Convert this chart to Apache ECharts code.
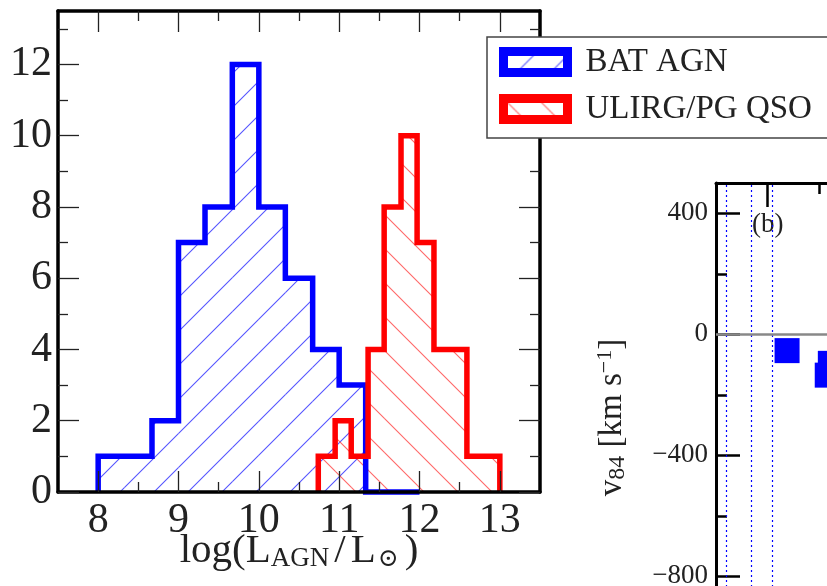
<!DOCTYPE html>
<html>
<head>
<meta charset="utf-8">
<script src="https://cdn.jsdelivr.net/npm/echarts@6/dist/echarts.min.js"></script>
<style>
  html, body { margin: 0; padding: 0; background: #fff; }
  #chart { width: 827px; height: 586px; }
</style>
</head>
<body>
<div id="chart"></div>
<script>
// 直方图数据 (a)
const batEdges = [8.0, 8.33, 8.67, 9.0, 9.33, 9.67, 10.0, 10.33, 10.67, 11.0, 11.33, 11.67, 12.0]
const batCounts = [1, 1, 2, 7, 8, 12, 8, 6, 4, 3, 0, 0]
const ulirgEdges = [10.74, 10.95, 11.15, 11.36, 11.56, 11.77, 11.97, 12.18, 12.38, 12.59, 12.79, 13.0]
const ulirgCounts = [1, 2, 1, 4, 8, 10, 7, 4, 4, 1, 1]

// 坐标轴刻度 (a)
const xMajor = [8, 9, 10, 11, 12, 13]
const xMinor = [8.5, 9.5, 10.5, 11.5, 12.5]
const yMajor = [0, 2, 4, 6, 8, 10, 12]
const yMinor = [1, 3, 5, 7, 9, 11, 13]

// 右侧子图 (b) 只露出一部分
const bXMajor = [0.5, 1.5, 2.5]
const bXMinor = [1.0, 2.0, 3.0]
const bYMajor = [-800, -400, 0, 400]
const bYMinor = [-1000, -600, -200, 200]
const bRefLines = [0.1, 0.34, 0.553]
const bPoints = [[0.69, -54], [1.11, -96], [1.08, -135]]

const SERIF = '"Liberation Serif", "DejaVu Serif", serif'

// 斜线填充
function hatch(color, dir) {
  const s = 34
  const cv = document.createElement('canvas')
  cv.width = s
  cv.height = s
  const ctx = cv.getContext('2d')
  ctx.strokeStyle = color
  ctx.lineWidth = 1.1
  ctx.beginPath()
  if (dir === '/') {
    ctx.moveTo(0, s); ctx.lineTo(s, 0)
    ctx.moveTo(-1, 1); ctx.lineTo(1, -1)
    ctx.moveTo(s - 1, s + 1); ctx.lineTo(s + 1, s - 1)
  } else {
    ctx.moveTo(0, 0); ctx.lineTo(s, s)
    ctx.moveTo(-1, s - 1); ctx.lineTo(1, s + 1)
    ctx.moveTo(s - 1, -1); ctx.lineTo(s + 1, 1)
  }
  ctx.stroke()
  return { image: cv, repeat: 'repeat' }
}

const blueHatch = hatch('rgba(30,30,255,0.75)', '/')
const redHatch = hatch('rgba(255,40,40,0.7)', '\\')

function histSeries(name, edges, counts, lineColor, pattern) {
  return {
    type: 'custom',
    name: name,
    xAxisIndex: 0,
    yAxisIndex: 0,
    z: 2,
    itemStyle: { color: pattern, borderColor: lineColor },
    data: counts.map((c, i) => [edges[i], edges[i + 1], c]),
    renderItem(params, api) {
      const p0 = api.coord([api.value(0), api.value(2)])
      const p1 = api.coord([api.value(1), 0])
      const children = [{
        type: 'rect',
        shape: { x: p0[0], y: p0[1], width: p1[0] - p0[0], height: p1[1] - p0[1] },
        style: { fill: pattern }
      }]
      // 最后一个 bin 时画整条阶梯轮廓
      if (params.dataIndex === counts.length - 1) {
        const pts = [api.coord([edges[0], 0])]
        counts.forEach((c, i) => {
          pts.push(api.coord([edges[i], c]))
          pts.push(api.coord([edges[i + 1], c]))
        })
        pts.push(api.coord([edges[edges.length - 1], 0]))
        children.push({
          type: 'polyline',
          shape: { points: pts },
          style: { stroke: lineColor, lineWidth: 5.5, fill: null, lineJoin: 'miter' },
          z2: 10
        })
      }
      return { type: 'group', children: children }
    }
  }
}

function tickAxis(opt) {
  // 通用的刻度轴，刻度朝内，不贴零点
  const base = {
    type: 'value',
    z: 3,
    splitLine: { show: false },
    axisLabel: { show: false },
  }
  const merged = Object.assign(base, opt)
  merged.axisLine = Object.assign({ show: false }, opt.axisLine || {}, { onZero: false })
  return merged
}

const minusFmt = v => (v < 0 ? '\u2212' + Math.abs(v) : String(v))

const chart = echarts.init(document.getElementById('chart'), null, { renderer: 'canvas' })

const option = {
  animation: false,
  backgroundColor: '#fff',
  grid: [
    { left: 58, top: 11, width: 482, height: 481, outerBoundsMode: 'none', containLabel: false },
    { left: 716, top: 183, width: 412, height: 469, outerBoundsMode: 'none', containLabel: false }
  ],
  legend: {
    orient: 'vertical',
    left: 487,
    top: 37,
    z: 10,
    padding: [8, 60, 12, 12],
    itemGap: 13,
    itemWidth: 64,
    itemHeight: 21,
    backgroundColor: '#fff',
    borderColor: '#444',
    borderWidth: 1.5,
    borderRadius: 0,
    icon: 'rect',
    textStyle: { fontFamily: SERIF, fontSize: 33, color: '#222', lineHeight: 34, padding: [0, 0, 0, 13] },
    data: [
      { name: 'BAT AGN', itemStyle: { color: blueHatch, borderColor: '#0000ff', borderWidth: 9 } },
      { name: 'ULIRG/PG QSO', itemStyle: { color: redHatch, borderColor: '#ff0000', borderWidth: 9 } }
    ]
  },
  xAxis: [
    tickAxis({
      gridIndex: 0, position: 'bottom', min: 7.5, max: 13.5,
      axisLine: { show: true, lineStyle: { color: '#000', width: 3.5 } },
      axisTick: { show: true, inside: true, length: 21, customValues: xMajor, lineStyle: { color: '#222', width: 1.3 } },
      axisLabel: { show: true, customValues: xMajor, margin: 8, fontFamily: SERIF, fontSize: 42, color: '#222' },
      name: '{a|log(L}{s|AGN}{b|/}{a|L}{o|\u2299}{c|)}',
      nameLocation: 'middle',
      nameGap: 38,
      nameMoveOverlap: false,
      nameTextStyle: {
        fontFamily: SERIF, fontSize: 41, color: '#222', lineHeight: 42,
        rich: {
          a: { fontFamily: SERIF, fontSize: 41, lineHeight: 42, color: '#222' },
          b: { fontFamily: SERIF, fontSize: 41, lineHeight: 42, color: '#222', padding: [0, 5, 0, 5] },
          c: { fontFamily: SERIF, fontSize: 41, lineHeight: 42, color: '#222', padding: [0, 0, 0, 6] },
          s: { fontFamily: SERIF, fontSize: 27, lineHeight: 27, verticalAlign: 'bottom', color: '#222' },
          o: { fontFamily: SERIF, fontSize: 25, lineHeight: 25, verticalAlign: 'bottom', color: '#222', padding: [0, 0, 0, 2] }
        }
      }
    }),
    tickAxis({
      gridIndex: 0, position: 'bottom', min: 7.5, max: 13.5,
      axisTick: { show: true, inside: true, length: 10, customValues: xMinor, lineStyle: { color: '#222', width: 1.3 } }
    }),
    tickAxis({
      gridIndex: 0, position: 'top', min: 7.5, max: 13.5,
      axisLine: { show: true, lineStyle: { color: '#000', width: 3.5 } },
      axisTick: { show: true, inside: true, length: 21, customValues: xMajor, lineStyle: { color: '#222', width: 1.3 } }
    }),
    tickAxis({
      gridIndex: 0, position: 'top', min: 7.5, max: 13.5,
      axisTick: { show: true, inside: true, length: 10, customValues: xMinor, lineStyle: { color: '#222', width: 1.3 } }
    }),
    tickAxis({
      gridIndex: 1, position: 'top', min: 0, max: 4,
      axisLine: { show: true, lineStyle: { color: '#000', width: 3 } },
      axisTick: { show: true, inside: true, length: 24, customValues: bXMajor, lineStyle: { color: '#000', width: 2.5 } }
    }),
    tickAxis({
      gridIndex: 1, position: 'top', min: 0, max: 4,
      axisTick: { show: true, inside: true, length: 11, customValues: bXMinor, lineStyle: { color: '#000', width: 2.5 } }
    })
  ],
  yAxis: [
    tickAxis({
      gridIndex: 0, position: 'left', min: 0, max: 13.5,
      axisLine: { show: true, lineStyle: { color: '#000', width: 3.5 } },
      axisTick: { show: true, inside: true, length: 21, customValues: yMajor, lineStyle: { color: '#222', width: 1.3 } },
      axisLabel: { show: true, customValues: yMajor, margin: 6, fontFamily: SERIF, fontSize: 42, color: '#222' }
    }),
    tickAxis({
      gridIndex: 0, position: 'left', min: 0, max: 13.5,
      axisTick: { show: true, inside: true, length: 10, customValues: yMinor, lineStyle: { color: '#222', width: 1.3 } }
    }),
    tickAxis({
      gridIndex: 0, position: 'right', min: 0, max: 13.5,
      axisLine: { show: true, lineStyle: { color: '#000', width: 3.5 } },
      axisTick: { show: true, inside: true, length: 21, customValues: yMajor, lineStyle: { color: '#222', width: 1.3 } }
    }),
    tickAxis({
      gridIndex: 0, position: 'right', min: 0, max: 13.5,
      axisTick: { show: true, inside: true, length: 10, customValues: yMinor, lineStyle: { color: '#222', width: 1.3 } }
    }),
    tickAxis({
      gridIndex: 1, position: 'left', min: -1050, max: 500,
      axisLine: { show: true, lineStyle: { color: '#000', width: 3 } },
      axisTick: { show: true, inside: true, length: 24, customValues: bYMajor, lineStyle: { color: '#000', width: 2.5 } },
      axisLabel: { show: true, customValues: bYMajor, formatter: minusFmt, margin: 8, fontFamily: SERIF, fontSize: 27, color: '#222' },
      name: 'v{s|84} [km s{p|\u22121}]',
      nameLocation: 'middle',
      nameRotate: 90,
      nameGap: 86,
      nameMoveOverlap: false,
      nameTextStyle: {
        fontFamily: SERIF, fontSize: 33, color: '#222', lineHeight: 36,
        rich: {
          s: { fontFamily: SERIF, fontSize: 24, lineHeight: 22, verticalAlign: 'bottom', color: '#222' },
          p: { fontFamily: SERIF, fontSize: 22, lineHeight: 22, verticalAlign: 'top', color: '#222' }
        }
      }
    }),
    tickAxis({
      gridIndex: 1, position: 'left', min: -1050, max: 500,
      axisTick: { show: true, inside: true, length: 11, customValues: bYMinor, lineStyle: { color: '#000', width: 2.5 } }
    })
  ],
  series: [
    histSeries('BAT AGN', batEdges, batCounts, '#0000ff', blueHatch),
    histSeries('ULIRG/PG QSO', ulirgEdges, ulirgCounts, '#ff0000', redHatch),
    {
      type: 'scatter',
      name: 'v84',
      xAxisIndex: 4,
      yAxisIndex: 4,
      symbol: 'rect',
      symbolSize: 25,
      itemStyle: { color: '#0000ff', opacity: 1 },
      data: bPoints,
      markLine: {
        silent: true,
        symbol: 'none',
        label: { show: false },
        lineStyle: { color: '#0000ff', width: 1.2, type: [2, 3], opacity: 1 },
        data: bRefLines.map(v => ({ xAxis: v, lineStyle: { color: '#0000ff', width: 1.2, type: [2, 3], opacity: 1 } }))
          .concat([{ yAxis: 0, lineStyle: { color: '#888', width: 2.5, type: 'solid', opacity: 1 } }])
      }
    }
  ],
  graphic: [
    { type: 'text', left: 752, top: 211, z: 5, style: { text: '(b)', font: '27px ' + SERIF, fill: '#222' } }
  ]
}

chart.setOption(option)
</script>
</body>
</html>
